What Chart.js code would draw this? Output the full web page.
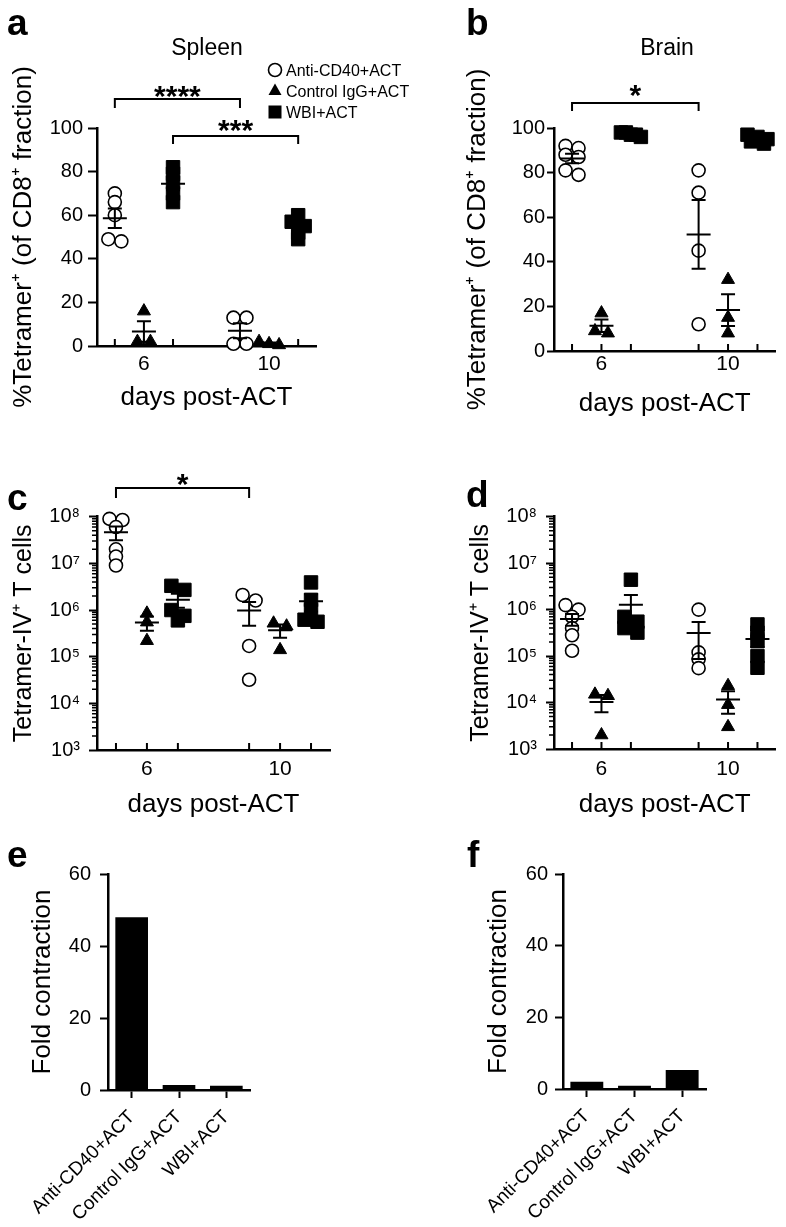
<!DOCTYPE html>
<html lang="en">
<head>
<meta charset="UTF-8">
<title>Tetramer+ CD8 T cells after ACT</title>
<script src="https://cdn.jsdelivr.net/npm/chart.js"></script>
<style>
  body { margin: 0; background: #fff; }
  #fig { position: relative; width: 786px; height: 1227px; overflow: hidden; }
  #fig canvas { position: absolute; }
</style>
</head>
<body>
<div id="fig">
  <canvas id="pa" width="440" height="420" style="left:0;top:0"></canvas>
  <canvas id="pb" width="356" height="420" style="left:430px;top:0"></canvas>
  <canvas id="pc" width="400" height="430" style="left:0;top:400px"></canvas>
  <canvas id="pd" width="356" height="430" style="left:430px;top:400px"></canvas>
  <canvas id="pe" width="400" height="407" style="left:0;top:820px"></canvas>
  <canvas id="pf" width="356" height="407" style="left:430px;top:820px"></canvas>
</div>

<script>
  const days = [6, 10];
  const groupNames = ['Anti-CD40+ACT', 'Control IgG+ACT', 'WBI+ACT'];

  // a: spleen, % tetramer+ of CD8+ — [day 6, day 10]
  const spleenPctAnti = [[70, 66, 60, 48, 49], [13, 13, 1, 1]];
  const spleenPctIgG = [[16, 2, 2], [2, 1, 0.5]];
  const spleenPctWBI = [[82, 79, 75, 70, 66], [60, 57, 55, 52, 49]];

  // b: brain, % tetramer+ of CD8+
  const brainPctAnti = [[92, 91, 88, 87, 81, 79], [81, 71, 45, 12]];
  const brainPctIgG = [[17, 8, 9], [32, 15, 8]];
  const brainPctWBI = [[98, 97, 97, 96, 98], [97, 95, 93, 96, 94]];

  // c: spleen, tetramer-IV+ T cell counts
  const spleenCntAnti = [[9e7, 8.5e7, 6e7, 2e7, 1.4e7, 9e6], [2.1e6, 1.6e6, 1.7e5, 3.2e4]];
  const spleenCntIgG = [[8.5e5, 5.5e5, 2.2e5], [5.2e5, 4.5e5, 1.4e5]];
  const spleenCntWBI = [[3.3e6, 2.7e6, 1e6, 7.5e5, 6e5], [3.9e6, 1.65e6, 1e6, 6.2e5, 5.6e5]];

  // d: brain, tetramer-IV+ T cell counts
  const brainCntAnti = [[1.25e6, 1e6, 7e5, 4e5, 2.8e5, 1.3e5], [1e6, 1.2e5, 8.5e4, 5.5e4]];
  const brainCntIgG = [[1.5e4, 1.4e4, 2e3], [2.3e4, 9e3, 3e3]];
  const brainCntWBI = [[4.4e6, 7e5, 5.5e5, 4e5, 3.2e5], [4.8e5, 3.2e5, 2.1e5, 1e5, 5.6e4]];

  // e, f: fold contraction
  const spleenFold = [48, 1.4, 1.2];
  const brainFold = [2, 0.9, 5.3];

  const pctTicks = [0, 20, 40, 60, 80, 100];
  const countTicks = [1e3, 1e4, 1e5, 1e6, 1e7, 1e8];
  const foldTicks = [0, 20, 40, 60];

  const FONT = '"Liberation Sans", Arial, Helvetica, sans-serif';
  Chart.defaults.font.family = FONT;
  Chart.defaults.color = '#000';

  const OFFSET = [-0.93, 0, 0.93];   // group position around each day
  const SUP = { 3: '³', 4: '⁴', 5: '⁵', 6: '⁶', 7: '⁷', 8: '⁸' };
  const SHAPES = [
    { pointStyle: 'circle', pointRadius: 6.5, pointBackgroundColor: '#fff', pointBorderColor: '#000', pointBorderWidth: 1.6 },
    { pointStyle: 'triangle', pointRadius: 7.5, pointBackgroundColor: '#000', pointBorderColor: '#000', pointBorderWidth: 1 },
    { pointStyle: 'rect', pointRadius: 9.5, pointBackgroundColor: '#000', pointBorderColor: '#000', pointBorderWidth: 1 }
  ];

  // spread points that sit in the same row, like a dot plot
  function swarm(chart) {
    chart.data.datasets.forEach((ds, i) => {
      const cols = {};
      chart.getDatasetMeta(i).data.forEach(el => {
        const k = Math.round(el.x);
        (cols[k] = cols[k] || []).push(el);
      });
      Object.values(cols).forEach(col => {
        col.sort((a, b) => a.y - b.y);
        let row = [];
        const flush = () => {
          const step = row.length > 1 ? Math.min(13, 20 / (row.length - 1)) : 0;
          row.forEach((el, j) => { el.x += (j - (row.length - 1) / 2) * step; });
          row = [];
        };
        col.forEach(el => {
          if (row.length && el.y - row[0].y > 6) flush();
          row.push(el);
        });
        flush();
      });
    });
  }

  function errorBars(chart, groups) {
    const { ctx, scales: { x, y } } = chart;
    ctx.save();
    ctx.strokeStyle = '#000';
    ctx.lineWidth = 2;
    groups.forEach((g, i) => g.forEach((vals, d) => {
      const n = vals.length;
      const m = vals.reduce((a, b) => a + b, 0) / n;
      const sd = Math.sqrt(vals.reduce((a, v) => a + (v - m) ** 2, 0) / (n - 1));
      const se = sd / Math.sqrt(n);
      const px = x.getPixelForValue(days[d] + OFFSET[i]);
      const py = y.getPixelForValue(m);
      const hi = y.getPixelForValue(m + se);
      const lo = m - se > 0 ? y.getPixelForValue(m - se) : py;
      ctx.beginPath();
      ctx.moveTo(px - 12, py); ctx.lineTo(px + 12, py);
      ctx.moveTo(px, lo); ctx.lineTo(px, hi);
      ctx.moveTo(px - 7, hi); ctx.lineTo(px + 7, hi);
      if (lo !== py) { ctx.moveTo(px - 7, lo); ctx.lineTo(px + 7, lo); }
      ctx.stroke();
    }));
    ctx.restore();
  }

  function mark(ctx, i, x, y) {
    ctx.beginPath();
    if (i === 0) {
      ctx.arc(x, y, 6.5, 0, Math.PI * 2);
      ctx.fillStyle = '#fff'; ctx.fill();
      ctx.lineWidth = 1.6; ctx.stroke();
    } else if (i === 1) {
      ctx.moveTo(x, y - 7.5); ctx.lineTo(x + 6.5, y + 4); ctx.lineTo(x - 6.5, y + 4); ctx.closePath();
      ctx.fillStyle = '#000'; ctx.fill();
    } else {
      ctx.fillStyle = '#000'; ctx.fillRect(x - 6.5, y - 6.5, 13, 13);
    }
  }

  function extras(cfg) {
    return {
      id: 'extras',
      afterDatasetsUpdate(chart) { if (cfg.groups) swarm(chart); },
      afterDatasetsDraw(chart) { if (cfg.groups) errorBars(chart, cfg.groups); },
      afterDraw(chart) {
        const ctx = chart.ctx;
        ctx.save();
        ctx.fillStyle = '#000';
        ctx.strokeStyle = '#000';
        ctx.textBaseline = 'alphabetic';
        if (cfg.groups) {
          // x tick marks point up into the plot
          const x = chart.scales.x, base = chart.chartArea.bottom;
          ctx.lineWidth = 2;
          ctx.beginPath();
          x.ticks.forEach(t => {
            const px = x.getPixelForValue(t.value);
            ctx.moveTo(px, base); ctx.lineTo(px, base - 7);
          });
          ctx.stroke();
        }
        if (cfg.minorLog) {
          const y = chart.scales.y;
          ctx.lineWidth = 1.5;
          ctx.beginPath();
          for (let k = 3; k < 8; k++) {
            for (let m = 2; m < 10; m++) {
              const py = y.getPixelForValue(m * Math.pow(10, k));
              ctx.moveTo(y.right - 5, py); ctx.lineTo(y.right, py);
            }
          }
          ctx.stroke();
        }
        (cfg.brackets || []).forEach(b => {
          const x = chart.scales.x;
          const x1 = x.getPixelForValue(b.from), x2 = x.getPixelForValue(b.to);
          ctx.lineWidth = 2;
          ctx.beginPath();
          ctx.moveTo(x1, b.y + b.drop); ctx.lineTo(x1, b.y); ctx.lineTo(x2, b.y); ctx.lineTo(x2, b.y + b.drop);
          ctx.stroke();
          ctx.font = 'bold 30px ' + FONT;
          ctx.textAlign = 'center';
          ctx.fillText(b.label, (x1 + x2) / 2, b.ly);
        });
        if (cfg.legend) {
          const L = cfg.legend;
          groupNames.forEach((name, i) => {
            const y = L.y + i * L.gap;
            mark(ctx, i, L.x, y);
            ctx.fillStyle = '#000';
            ctx.font = '16px ' + FONT;
            ctx.textAlign = 'left';
            ctx.fillText(name, L.x + 11, y + 6);
          });
        }
        if (cfg.title) {
          ctx.font = '23px ' + FONT;
          ctx.textAlign = 'center';
          ctx.fillText(cfg.title.text, cfg.title.x, cfg.title.y);
        }
        if (cfg.letter) {
          ctx.font = 'bold 37px ' + FONT;
          ctx.textAlign = 'left';
          ctx.fillText(cfg.letter.text, cfg.letter.x, cfg.letter.y);
        }
        ctx.restore();
      }
    };
  }

  const axisLine = { color: '#000', width: 2.5 };

  function yScale(cfg, extra) {
    return Object.assign({
      afterFit: s => { s.width = cfg.yW; s.paddingTop = 0; s.paddingBottom = 0; },
      grid: { drawOnChartArea: false, tickLength: cfg.yTl, tickWidth: 2, color: '#000' },
      border: axisLine,
      title: { display: true, text: cfg.yTitle, font: { size: cfg.ytSize || 26 }, padding: { top: cfg.ytPad, bottom: 0 } }
    }, extra);
  }

  function scatterChart(id, groups, cfg) {
    const y = cfg.log
      ? yScale(cfg, {
          type: 'logarithmic', min: 1e3, max: 1e8,
          afterBuildTicks: s => { s.ticks = countTicks.map(v => ({ value: v })); },
          ticks: { font: { size: 20 }, padding: cfg.yPad, callback: v => '10' + SUP[Math.round(Math.log10(v))] }
        })
      : yScale(cfg, {
          type: 'linear', min: 0, max: 100,
          afterBuildTicks: s => { s.ticks = pctTicks.map(v => ({ value: v })); },
          ticks: { font: { size: 20 }, padding: cfg.yPad }
        });
    return new Chart(document.getElementById(id), {
      type: 'scatter',
      data: {
        datasets: groups.map((g, i) => Object.assign({
          label: groupNames[i],
          data: g.flatMap((vals, d) => vals.map(v => ({ x: days[d] + OFFSET[i], y: v }))),
          clip: false
        }, SHAPES[i]))
      },
      options: {
        responsive: false, animation: false, events: [],
        layout: { padding: { top: cfg.top, right: cfg.right, left: 0, bottom: 0 } },
        scales: {
          x: {
            type: 'linear', min: 4.5, max: 11.5,
            afterBuildTicks: s => { s.ticks = days.flatMap(d => OFFSET.map(o => ({ value: d + o }))); },
            afterFit: s => { s.height = cfg.xH; s.paddingLeft = 0; s.paddingRight = 0; },
            ticks: { callback: v => days.includes(v) ? String(v) : '', font: { size: 21 }, padding: cfg.xPad, maxRotation: 0, autoSkip: false },
            grid: { drawOnChartArea: false, drawTicks: false },
            border: axisLine,
            title: { display: true, text: 'days post-ACT', font: { size: 26 }, padding: { top: 0, bottom: cfg.xtPad } }
          },
          y: y
        },
        plugins: { legend: { display: false }, tooltip: { enabled: false } }
      },
      plugins: [extras(Object.assign({ groups: groups }, cfg))]
    });
  }

  function barChart(id, values, cfg) {
    return new Chart(document.getElementById(id), {
      type: 'bar',
      data: {
        labels: groupNames,
        datasets: [{ data: values, backgroundColor: '#000', borderWidth: 0, barPercentage: 0.69, categoryPercentage: 1 }]
      },
      options: {
        responsive: false, animation: false, events: [],
        layout: { padding: { top: cfg.top, right: cfg.right, left: 0, bottom: 0 } },
        scales: {
          x: {
            afterFit: s => { s.height = cfg.xH; s.paddingLeft = 0; s.paddingRight = 0; },
            ticks: { font: { size: 19 }, minRotation: 45, maxRotation: 45, autoSkip: false, padding: cfg.xPad },
            grid: { offset: false, drawOnChartArea: false, tickLength: 8, tickWidth: 2, color: '#000' },
            border: axisLine
          },
          y: yScale(cfg, {
            type: 'linear', min: 0, max: 60,
            afterBuildTicks: s => { s.ticks = foldTicks.map(v => ({ value: v })); },
            ticks: { font: { size: 20 }, padding: cfg.yPad }
          })
        },
        plugins: { legend: { display: false }, tooltip: { enabled: false } }
      },
      plugins: [extras(cfg)]
    });
  }

  const pctTitle = '%Tetramer⁺ (of CD8⁺ fraction)';
  const cntTitle = 'Tetramer-IV⁺ T cells';

  scatterChart('pa', [spleenPctAnti, spleenPctIgG, spleenPctWBI], {
    top: 128, right: 124, yW: 97, xH: 74, yTl: 9, yPad: 5, xPad: 6, xtPad: 6.4, ytPad: 8.4,
    yTitle: pctTitle,
    title: { text: 'Spleen', x: 207, y: 55 },
    letter: { text: 'a', x: 7, y: 35 },
    legend: { x: 275, y: 70, gap: 21 },
    brackets: [
      { from: 6 + OFFSET[0], to: 10 + OFFSET[0], y: 99, drop: 9, label: '****', ly: 106 },
      { from: 6 + OFFSET[2], to: 10 + OFFSET[2], y: 136, drop: 8, label: '***', ly: 140 }
    ]
  });

  scatterChart('pb', [brainPctAnti, brainPctIgG, brainPctWBI], {
    top: 128, right: 9, yW: 124, xH: 69, yTl: 7, yPad: 2, xPad: 1, xtPad: 0.4, ytPad: 32.4,
    yTitle: pctTitle,
    title: { text: 'Brain', x: 237, y: 55 },
    letter: { text: 'b', x: 36, y: 35 },
    brackets: [{ from: 6 + OFFSET[0], to: 10 + OFFSET[0], y: 103, drop: 8, label: '*', ly: 105 }]
  });

  scatterChart('pc', [spleenCntAnti, spleenCntIgG, spleenCntWBI], {
    log: true, minorLog: true,
    top: 116.7, right: 70, yW: 97, xH: 80, yTl: 8, yPad: 9, xPad: 7, xtPad: 9.4, ytPad: 9, ytSize: 25,
    yTitle: cntTitle,
    letter: { text: 'c', x: 7, y: 110 },
    brackets: [{ from: 6 + OFFSET[0], to: 10 + OFFSET[0], y: 88, drop: 10, label: '*', ly: 94 }]
  });

  scatterChart('pd', [brainCntAnti, brainCntIgG, brainCntWBI], {
    log: true, minorLog: true,
    top: 116.7, right: 3, yW: 124, xH: 81, yTl: 8, yPad: 9, xPad: 8, xtPad: 9.4, ytPad: 36, ytSize: 25,
    yTitle: cntTitle,
    letter: { text: 'd', x: 36, y: 107 }
  });

  barChart('pe', spleenFold, {
    top: 54, right: 150, yW: 108, xH: 137, yTl: 8, yPad: 9, xPad: 8, ytPad: 27.4,
    yTitle: 'Fold contraction',
    letter: { text: 'e', x: 7, y: 47 }
  });

  barChart('pf', brainFold, {
    top: 54, right: 80, yW: 133, xH: 138, yTl: 8, yPad: 7, xPad: 8, ytPad: 53.4,
    yTitle: 'Fold contraction',
    letter: { text: 'f', x: 37, y: 47 }
  });
</script>
</body>
</html>
